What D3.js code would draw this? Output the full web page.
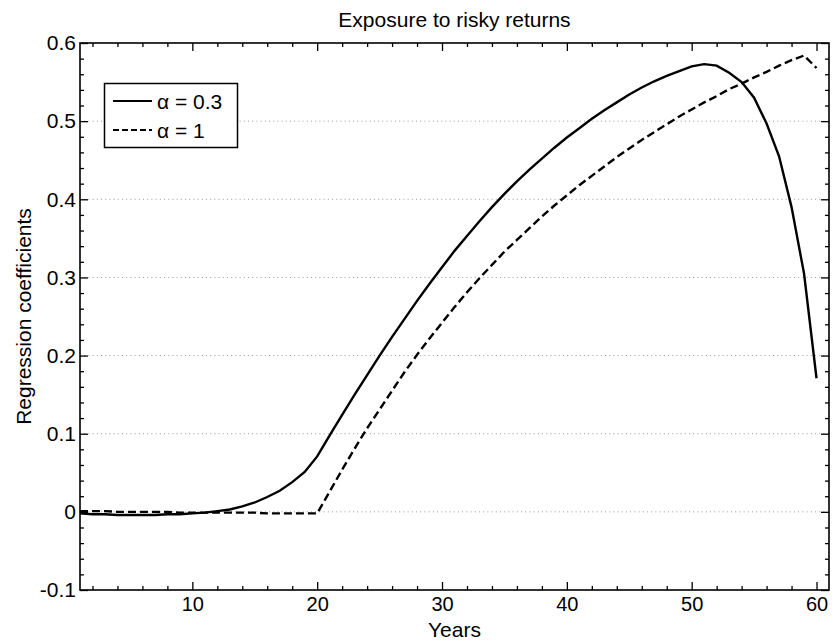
<!DOCTYPE html>
<html>
<head>
<meta charset="utf-8">
<script src="https://cdn.jsdelivr.net/npm/d3@7"></script>
<style>
  html, body { margin: 0; padding: 0; background: #fff; }
  svg { display: block; }
  text { font-family: "Liberation Sans", Arial, Helvetica, sans-serif; fill: #000; }
</style>
</head>
<body>
<svg id="chart" width="834" height="643"></svg>
<script>
// Years of the life cycle
const years = [1,2,3,4,5,6,7,8,9,10,11,12,13,14,15,16,17,18,19,20,
  21,22,23,24,25,26,27,28,29,30,31,32,33,34,35,36,37,38,39,40,
  41,42,43,44,45,46,47,48,49,50,51,52,53,54,55,56,57,58,59,60];

// Regression coefficients, alpha = 0.3
const alpha03 = [-0.002,-0.003,-0.003,-0.004,-0.004,-0.004,-0.004,-0.003,-0.003,-0.002,
  -0.001,0.001,0.003,0.007,0.012,0.019,0.027,0.038,0.051,0.071,
  0.098,0.124,0.150,0.175,0.200,0.224,0.247,0.270,0.292,0.313,
  0.334,0.353,0.372,0.390,0.407,0.423,0.438,0.452,0.466,0.479,
  0.491,0.503,0.514,0.524,0.534,0.543,0.551,0.558,0.564,0.570,
  0.573,0.571,0.562,0.550,0.530,0.497,0.455,0.390,0.305,0.171];

// Regression coefficients, alpha = 1
const alpha1 = [0.001,0.001,0.001,0.000,0.000,0.000,0.000,0.000,-0.001,-0.001,
  -0.001,-0.001,-0.001,-0.001,-0.001,-0.002,-0.002,-0.002,-0.002,-0.002,
  0.026,0.054,0.081,0.107,0.131,0.155,0.179,0.201,0.222,0.242,
  0.262,0.281,0.299,0.316,0.333,0.348,0.363,0.378,0.392,0.405,
  0.418,0.430,0.442,0.454,0.465,0.476,0.486,0.496,0.506,0.515,
  0.524,0.532,0.541,0.548,0.556,0.563,0.571,0.578,0.584,0.568];

const seriesNames = ["\u03b1 = 0.3", "\u03b1 = 1"];
const xTicks = [10, 20, 30, 40, 50, 60];
const xMinorTicks = [2,4,6,8,12,14,16,18,22,24,26,28,32,34,36,38,42,44,46,48,52,54,56,58];
const yTicks = [-0.1, 0, 0.1, 0.2, 0.3, 0.4, 0.5, 0.6];
const yTickLabels = ["-0.1", "0", "0.1", "0.2", "0.3", "0.4", "0.5", "0.6"];
const yMinorTicks = [-0.08,-0.06,-0.04,-0.02,0.02,0.04,0.06,0.08,0.12,0.14,0.16,0.18,
  0.22,0.24,0.26,0.28,0.32,0.34,0.36,0.38,0.42,0.44,0.46,0.48,0.52,0.54,0.56,0.58];
const yGrid = [0, 0.1, 0.2, 0.3, 0.4, 0.5];

const svg = d3.select("#chart");
const L = 80, R = 829, T = 43, B = 590;
const fs = 21, tickFs = 20;

const x = d3.scaleLinear().domain([1, 61]).range([L, R]);
const y = d3.scaleLinear().domain([-0.1, 0.6]).range([B, T]);

// horizontal dotted grid
svg.append("g").selectAll("line").data(yGrid).join("line")
  .attr("x1", L).attr("x2", R)
  .attr("y1", d => y(d)).attr("y2", d => y(d))
  .attr("stroke", "#9a9a9a").attr("stroke-width", 1)
  .attr("stroke-dasharray", "1,3.2");

// axes with inward ticks on all four sides
const majorLen = 8, minorLen = 4;
function addAxis(axisGen, transform) {
  const g = svg.append("g").attr("transform", transform).call(axisGen);
  g.select(".domain").remove();
  g.selectAll("line").attr("stroke", "#000").attr("stroke-width", 1.3);
  return g;
}
// bottom
const bottom = addAxis(d3.axisBottom(x).tickValues(xTicks).tickSizeInner(-majorLen).tickSizeOuter(0), `translate(0,${B})`);
bottom.selectAll("text").attr("font-size", tickFs).attr("dy", null).attr("y", 21);
addAxis(d3.axisBottom(x).tickValues(xMinorTicks).tickSizeInner(-minorLen).tickSizeOuter(0).tickFormat(""), `translate(0,${B})`);
// top
addAxis(d3.axisTop(x).tickValues(xTicks).tickSizeInner(-majorLen).tickSizeOuter(0).tickFormat(""), `translate(0,${T})`);
addAxis(d3.axisTop(x).tickValues(xMinorTicks).tickSizeInner(-minorLen).tickSizeOuter(0).tickFormat(""), `translate(0,${T})`);
// left
const left = addAxis(d3.axisLeft(y).tickValues(yTicks).tickSizeInner(-majorLen).tickSizeOuter(0)
  .tickFormat((d, i) => yTickLabels[i]), `translate(${L},0)`);
left.selectAll("text").attr("font-size", fs).attr("x", -4);
addAxis(d3.axisLeft(y).tickValues(yMinorTicks).tickSizeInner(-minorLen).tickSizeOuter(0).tickFormat(""), `translate(${L},0)`);
// right
addAxis(d3.axisRight(y).tickValues(yTicks).tickSizeInner(-majorLen).tickSizeOuter(0).tickFormat(""), `translate(${R},0)`);
addAxis(d3.axisRight(y).tickValues(yMinorTicks).tickSizeInner(-minorLen).tickSizeOuter(0).tickFormat(""), `translate(${R},0)`);

// frame
svg.append("rect").attr("x", L).attr("y", T).attr("width", R - L).attr("height", B - T)
  .attr("fill", "none").attr("stroke", "#000").attr("stroke-width", 1.6);

// curves
const line = d3.line().x((d, i) => x(years[i])).y(d => y(d));
svg.append("path").datum(alpha03).attr("d", line)
  .attr("fill", "none").attr("stroke", "#000").attr("stroke-width", 2.4);
svg.append("path").datum(alpha1).attr("d", line)
  .attr("fill", "none").attr("stroke", "#000").attr("stroke-width", 2.4)
  .attr("stroke-dasharray", "8,4");

// legend
const lg = svg.append("g");
lg.append("rect").attr("x", 104.5).attr("y", 83.5).attr("width", 133).attr("height", 64)
  .attr("fill", "#fff").attr("stroke", "#000").attr("stroke-width", 1.5);
const rows = [{name: seriesNames[0], dash: null, yy: 101}, {name: seriesNames[1], dash: "6,3", yy: 130}];
rows.forEach(r => {
  const ln = lg.append("line").attr("x1", 113).attr("x2", 152).attr("y1", r.yy).attr("y2", r.yy)
    .attr("stroke", "#000").attr("stroke-width", 2.2);
  if (r.dash) ln.attr("stroke-dasharray", r.dash);
  lg.append("text").attr("x", 157).attr("y", r.yy + 8).attr("font-size", fs).text(r.name);
});

// titles
svg.append("text").attr("x", (L + R) / 2).attr("y", 27).attr("text-anchor", "middle")
  .attr("font-size", fs).text("Exposure to risky returns");
svg.append("text").attr("x", (L + R) / 2).attr("y", 637).attr("text-anchor", "middle")
  .attr("font-size", fs).text("Years");
svg.append("text").attr("transform", `translate(31,${(T + B) / 2}) rotate(-90)`)
  .attr("text-anchor", "middle").attr("font-size", fs).text("Regression coefficients");
</script>
</body>
</html>
